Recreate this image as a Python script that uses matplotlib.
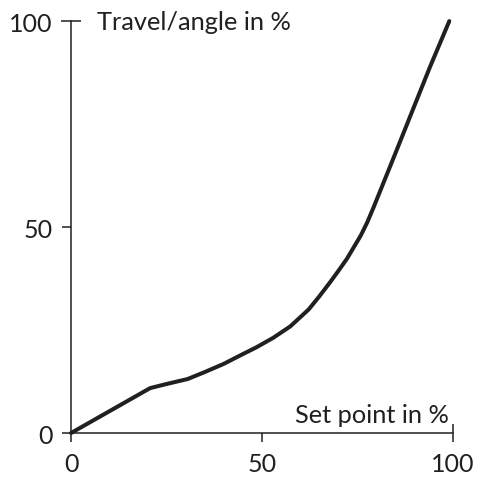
import matplotlib
matplotlib.use("Agg")
import matplotlib.pyplot as plt

set_point = [0, 20.7, 25, 30.5, 35, 40, 44.2, 48.5, 52.9, 57.4, 62.2, 65, 67.8, 70, 72.2, 75.8,
             77.5, 79.1, 84.5, 89.5, 94, 99]
travel = [0, 10.9, 11.9, 13.1, 14.8, 16.8, 18.8, 20.8, 23.1, 25.9, 30.0, 33.2, 36.6, 39.4, 42.3, 47.9,
          51.1, 54.6, 67.0, 78.6, 89.0, 100]
ticks = [0, 50, 100]
x_label = "Set point in %"
y_label = "Travel/angle in %"

plt.rcParams['font.family'] = ['Lato', 'DejaVu Sans']
col = '#231f20'

fig = plt.figure(figsize=(4.8, 4.81), dpi=100)
ax = fig.add_axes([0.148, 0.0977, 0.796, 0.8563])
ax.plot(set_point, travel, color=col, lw=2.9, solid_capstyle='round', solid_joinstyle='round', clip_on=False)
ax.set_xlim(0, 100)
ax.set_ylim(0, 100)
for s in ['top', 'right']:
    ax.spines[s].set_visible(False)
for s in ['left', 'bottom']:
    ax.spines[s].set_linewidth(1.1)
    ax.spines[s].set_color(col)
ax.set_xticks(ticks)
ax.set_yticks(ticks)
ax.set_xticklabels([str(t) for t in ticks])
ax.set_yticklabels([str(t) for t in ticks])
ax.tick_params(axis='both', direction='out', length=6.5, width=1.1, color=col,
               labelsize=18, labelcolor=col, pad=7)
# 100 ticks cross the axis
xt = ax.xaxis.get_major_ticks()[-1]
xt.tick1line.set_marker('|')
xt.tick1line.set_markersize(13)
yt = ax.yaxis.get_major_ticks()[-1]
yt.tick1line.set_marker('_')
yt.tick1line.set_markersize(14)

ax.text(6.8, 100, y_label, fontsize=18.3, color=col, ha='left', va='center')
ax.text(99, 2.7, x_label, fontsize=18.3, color=col, ha='right', va='baseline')

fig.savefig("out.png", dpi=100)
